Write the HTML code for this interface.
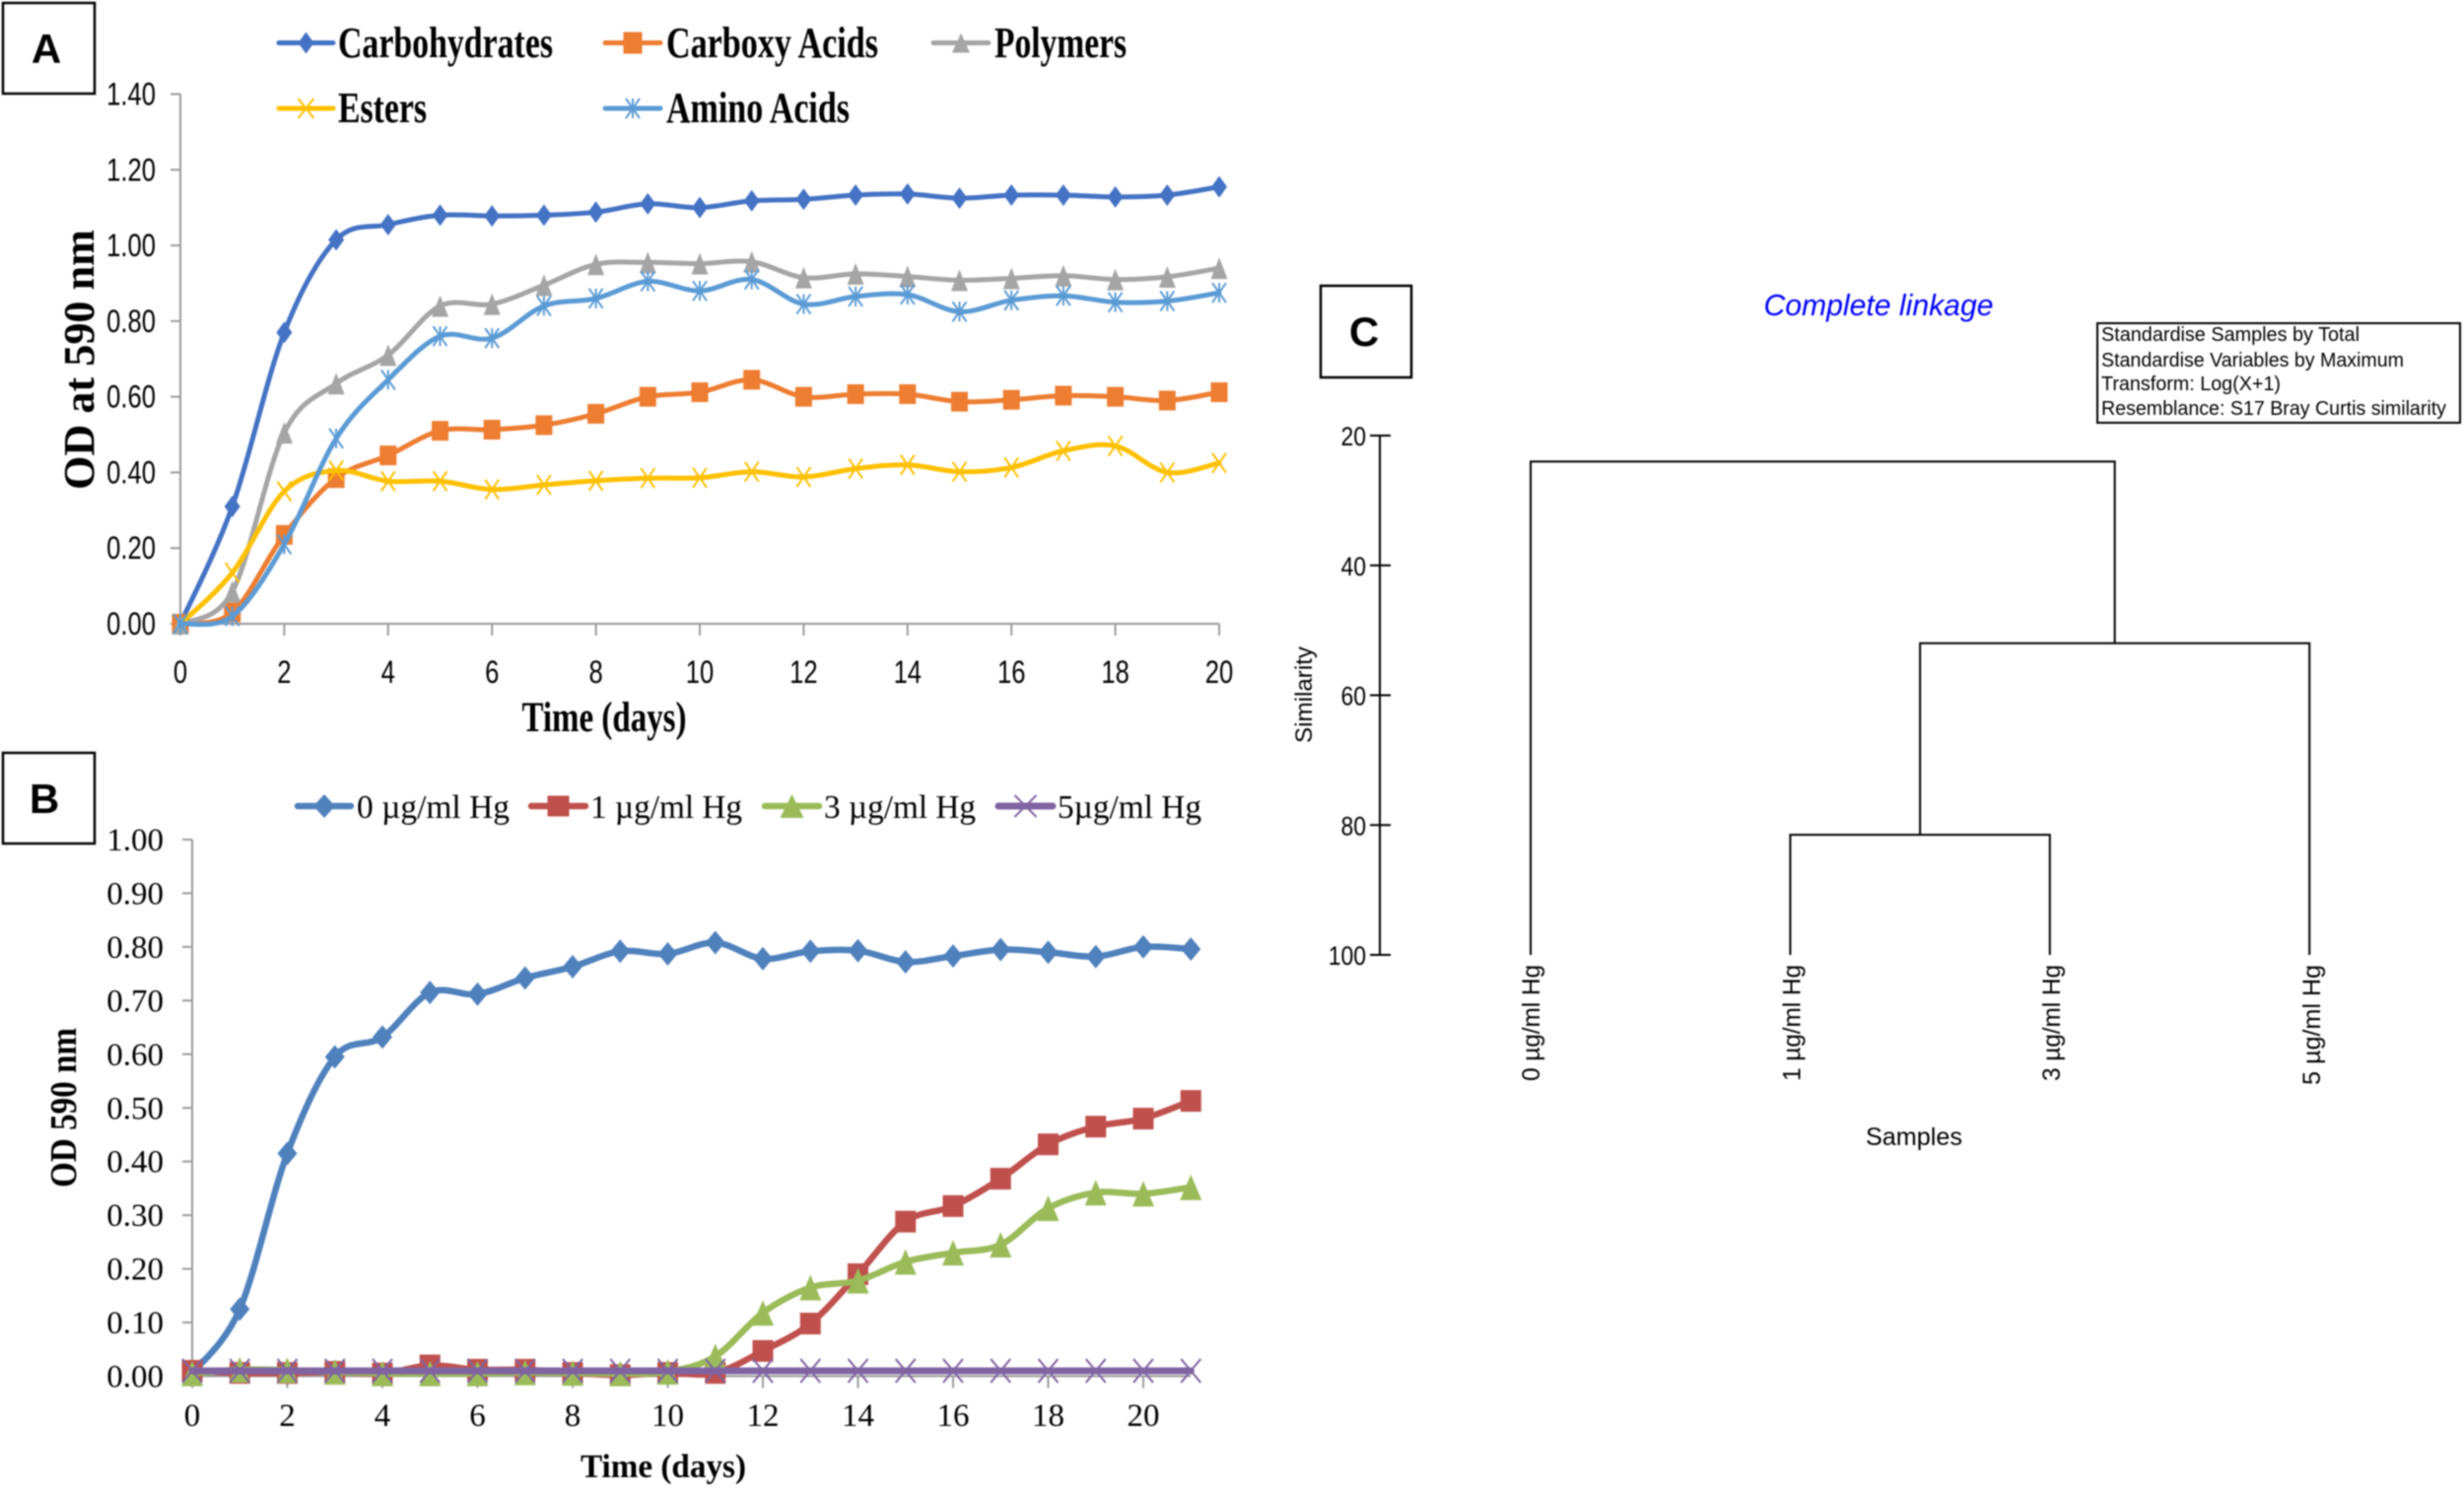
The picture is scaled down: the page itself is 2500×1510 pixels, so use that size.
<!DOCTYPE html>
<html>
<head>
<meta charset="utf-8">
<title>Panels A, B and C</title>
<style>
html,body{margin:0;padding:0;background:#fff;width:2500px;height:1510px;overflow:hidden}
svg{display:block;filter:blur(0.7px)}
.serif{font-family:"Liberation Serif",serif}
.sans{font-family:"Liberation Sans",sans-serif}
</style>
</head>
<body>
<svg id="figure" xmlns="http://www.w3.org/2000/svg" width="2500" height="1510" viewBox="0 0 2500 1510">
  <rect width="2500" height="1510" fill="#fff"/>

  <g id="panel-a">
    <rect x="3" y="3" width="93" height="92" fill="#fff" stroke="#000" stroke-width="2.5"/>
    <text class="sans" x="47" y="64" font-size="42" font-weight="bold" text-anchor="middle">A</text>
    <text class="serif" x="343" y="58" font-size="44" font-weight="bold" textLength="218" lengthAdjust="spacingAndGlyphs">Carbohydrates</text>
    <text class="serif" x="676" y="58" font-size="44" font-weight="bold" textLength="215" lengthAdjust="spacingAndGlyphs">Carboxy Acids</text>
    <text class="serif" x="1009" y="58" font-size="44" font-weight="bold" textLength="134" lengthAdjust="spacingAndGlyphs">Polymers</text>
    <text class="serif" x="343" y="124" font-size="44" font-weight="bold" textLength="90" lengthAdjust="spacingAndGlyphs">Esters</text>
    <text class="serif" x="676" y="124" font-size="44" font-weight="bold" textLength="186" lengthAdjust="spacingAndGlyphs">Amino Acids</text>
    <text class="serif" transform="translate(95,365) rotate(-90)" font-size="44" font-weight="bold" text-anchor="middle" textLength="264" lengthAdjust="spacingAndGlyphs">OD at 590 nm</text>
    <text class="serif" x="613" y="742" font-size="43" font-weight="bold" text-anchor="middle" textLength="167" lengthAdjust="spacingAndGlyphs">Time (days)</text>
  </g>

  <g id="panel-b">
    <rect x="3" y="764" width="93" height="92" fill="#fff" stroke="#000" stroke-width="2.5"/>
    <text class="sans" x="45" y="825" font-size="42" font-weight="bold" text-anchor="middle">B</text>
    <text class="serif" x="362" y="830" font-size="34" textLength="155" lengthAdjust="spacingAndGlyphs">0 µg/ml Hg</text>
    <text class="serif" x="599" y="830" font-size="34" textLength="154" lengthAdjust="spacingAndGlyphs">1 µg/ml Hg</text>
    <text class="serif" x="836" y="830" font-size="34" textLength="154" lengthAdjust="spacingAndGlyphs">3 µg/ml Hg</text>
    <text class="serif" x="1073" y="830" font-size="34" textLength="146" lengthAdjust="spacingAndGlyphs">5µg/ml Hg</text>
    <text class="serif" transform="translate(77,1124) rotate(-90)" font-size="38" font-weight="bold" text-anchor="middle" textLength="162" lengthAdjust="spacingAndGlyphs">OD 590 nm</text>
    <text class="serif" x="673" y="1499" font-size="34" font-weight="bold" text-anchor="middle" textLength="168" lengthAdjust="spacingAndGlyphs">Time (days)</text>
  </g>

  <g id="panel-c">
    <rect x="1340" y="290" width="92" height="93" fill="#fff" stroke="#000" stroke-width="2.5"/>
    <text class="sans" x="1384" y="351" font-size="42" font-weight="bold" text-anchor="middle">C</text>
    <text class="sans" x="1906" y="320" font-size="31" font-style="italic" fill="#0000ff" text-anchor="middle" textLength="233" lengthAdjust="spacingAndGlyphs">Complete linkage</text>
    <rect x="2128" y="328" width="368" height="101" fill="#fff" stroke="#000" stroke-width="2"/>
    <text class="sans" x="2132" y="346" font-size="20" textLength="262" lengthAdjust="spacingAndGlyphs">Standardise Samples by Total</text>
    <text class="sans" x="2132" y="372" font-size="20" textLength="307" lengthAdjust="spacingAndGlyphs">Standardise Variables by Maximum</text>
    <text class="sans" x="2132" y="396" font-size="20" textLength="182" lengthAdjust="spacingAndGlyphs">Transform: Log(X+1)</text>
    <text class="sans" x="2132" y="421" font-size="20" textLength="350" lengthAdjust="spacingAndGlyphs">Resemblance: S17 Bray Curtis similarity</text>
    <text class="sans" transform="translate(1331,705) rotate(-90)" font-size="24" text-anchor="middle" textLength="98" lengthAdjust="spacingAndGlyphs">Similarity</text>
    <text class="sans" x="1942" y="1162" font-size="25" text-anchor="middle" textLength="98" lengthAdjust="spacingAndGlyphs">Samples</text>
  </g>
</svg>

<script>
var daysA = [0,1,2,3,4,5,6,7,8,9,10,11,12,13,14,15,16,17,18,19,20];
var carbohydrates = [0,0.31,0.77,1.015,1.055,1.08,1.078,1.08,1.088,1.11,1.10,1.118,1.122,1.133,1.136,1.125,1.133,1.133,1.128,1.133,1.155];
var carboxyAcids = [0,0.03,0.235,0.385,0.445,0.51,0.513,0.525,0.555,0.60,0.612,0.645,0.60,0.607,0.607,0.587,0.592,0.603,0.60,0.59,0.612];
var polymers = [0,0.085,0.505,0.635,0.71,0.84,0.845,0.895,0.95,0.955,0.952,0.957,0.915,0.925,0.918,0.908,0.913,0.92,0.91,0.917,0.94];
var esters = [0,0.135,0.35,0.405,0.377,0.377,0.355,0.367,0.378,0.385,0.386,0.402,0.388,0.41,0.42,0.402,0.413,0.457,0.47,0.40,0.425];
var aminoAcids = [0,0.02,0.21,0.49,0.645,0.76,0.755,0.84,0.86,0.905,0.88,0.91,0.845,0.865,0.87,0.825,0.855,0.867,0.85,0.853,0.875];
var yTicksA = ["0.00","0.20","0.40","0.60","0.80","1.00","1.20","1.40"];
var xTicksA = ["0","2","4","6","8","10","12","14","16","18","20"];

var daysB = [0,1,2,3,4,5,6,7,8,9,10,11,12,13,14,15,16,17,18,19,20,21];
var hg0 = [0.005,0.125,0.415,0.595,0.632,0.715,0.712,0.742,0.763,0.792,0.787,0.808,0.778,0.792,0.793,0.772,0.783,0.795,0.79,0.782,0.80,0.796];
var hg1 = [0.01,0.006,0.006,0.008,0.005,0.02,0.012,0.012,0.006,0.002,0.006,0.006,0.047,0.098,0.19,0.288,0.317,0.368,0.432,0.465,0.48,0.513];
var hg3 = [0.005,0.012,0.011,0.008,0.005,0.005,0.005,0.007,0.006,0.005,0.008,0.037,0.118,0.165,0.178,0.213,0.23,0.245,0.313,0.342,0.34,0.352];
var hg5 = [0.01,0.01,0.01,0.01,0.01,0.01,0.01,0.01,0.01,0.01,0.01,0.01,0.01,0.01,0.01,0.01,0.01,0.01,0.01,0.01,0.01,0.01];
var yTicksB = ["0.00","0.10","0.20","0.30","0.40","0.50","0.60","0.70","0.80","0.90","1.00"];
var xTicksB = ["0","2","4","6","8","10","12","14","16","18","20"];

var samplesC = ["0 µg/ml Hg","1 µg/ml Hg","3 µg/ml Hg","5 µg/ml Hg"];
var yTicksC = ["20","40","60","80","100"];
var mergeSimilarity = [81.5,52,24];

var NS = 'http://www.w3.org/2000/svg';
var SERIF = '"Liberation Serif",serif';
var SANS = '"Liberation Sans",sans-serif';
function mk(tag, attrs, parent){
  var el = document.createElementNS(NS, tag);
  for (var k in attrs) el.setAttribute(k, attrs[k]);
  parent.appendChild(el);
  return el;
}
function xA(d){ return 183 + d * (1237 - 183) / 20; }
function yA(v){ return 633 - v * (633 - 95.5) / 1.4; }
function xB(d){ return 195 + d * (1160 - 195) / 20; }
function yB(v){ return 1396.5 - v * (1396.5 - 852); }
function xC(i){ return 1553 + i * 263.4; }
function yC(s){ return 442 + (s - 20) * (969 - 442) / 80; }

function smoothPath(pts){
  var n = pts.length;
  var d = 'M' + pts[0][0].toFixed(1) + ' ' + pts[0][1].toFixed(1);
  for (var i = 0; i < n - 1; i++){
    var p0 = pts[i > 0 ? i - 1 : i], p1 = pts[i], p2 = pts[i + 1], p3 = pts[i + 2 < n ? i + 2 : i + 1];
    var c1x = p1[0] + (p2[0] - p0[0]) / 6, c1y = p1[1] + (p2[1] - p0[1]) / 6;
    var c2x = p2[0] - (p3[0] - p1[0]) / 6, c2y = p2[1] - (p3[1] - p1[1]) / 6;
    d += 'C' + c1x.toFixed(1) + ' ' + c1y.toFixed(1) + ' ' + c2x.toFixed(1) + ' ' + c2y.toFixed(1) + ' ' + p2[0].toFixed(1) + ' ' + p2[1].toFixed(1);
  }
  return d;
}
function marker(kind, x, y, color, hw, hh, parent){
  var el;
  if (kind === 'diamond') {
    el = mk('polygon', {points: (x-hw)+','+y+' '+x+','+(y-hh)+' '+(x+hw)+','+y+' '+x+','+(y+hh), fill: color}, parent);
  } else if (kind === 'square') {
    el = mk('rect', {x: x-hw, y: y-hh, width: 2*hw, height: 2*hh, fill: color}, parent);
  } else if (kind === 'triangle') {
    el = mk('polygon', {points: (x-hw)+','+(y+hh)+' '+x+','+(y-hh)+' '+(x+hw)+','+(y+hh), fill: color}, parent);
  } else {
    var d = 'M'+(x-hw)+' '+(y-hh)+'L'+(x+hw)+' '+(y+hh)+'M'+(x-hw)+' '+(y+hh)+'L'+(x+hw)+' '+(y-hh);
    if (kind === 'star') d += 'M'+x+' '+(y-hh)+'L'+x+' '+(y+hh);
    el = mk('path', {d: d, fill: 'none', stroke: color, 'stroke-width': 2}, parent);
  }
  return el;
}
function label(parent, str, x, y, anchor, size, family, sx){
  var el = mk('text', {transform: 'translate('+x+','+y+') scale('+sx+',1)', 'text-anchor': anchor, 'font-size': size, 'font-family': family, fill: '#000'}, parent);
  el.textContent = str;
  return el;
}
function series(parent, name, xs, vals, fx, fy, color, width, kind, hw, hh){
  var g = mk('g', {}, parent);
  
  
  var pts = vals.map(function(v, i){ return [fx(xs[i]), fy(v)]; });
  var line = mk('path', {d: smoothPath(pts), fill: 'none', stroke: color, 'stroke-width': width, 'stroke-linejoin': 'round', 'stroke-linecap': 'round'}, g);
  
  
  pts.forEach(function(p){
    var m = marker(kind, p[0], p[1], color, hw, hh, g);
    
    
  });
}
function legendKey(parent, name, x1, x2, y, color, width, kind, hw, hh){
  var l = mk('line', {x1: x1, x2: x2, y1: y, y2: y, stroke: color, 'stroke-width': width, 'stroke-linecap': 'round'}, parent);
  
  
  var m = marker(kind, (x1 + x2) / 2, y, color, hw, hh, parent);
  
  
}
function chartAxes(parent, prefix, fx, fy, xLabels, yLabels, yStep, xEnd, yTop, o){
  var axisColor = '#9a9a9a';
  var ya = mk('line', {x1: fx(0), x2: fx(0), y1: fy(yTop), y2: fy(0), stroke: axisColor, 'stroke-width': 2}, parent);
  
  
  var xa = mk('line', {x1: fx(0), x2: fx(xEnd), y1: fy(0), y2: fy(0), stroke: axisColor, 'stroke-width': 2}, parent);
  
  
  yLabels.forEach(function(t, i){
    var v = parseFloat(t);
    var tk = mk('line', {x1: fx(0) - 10, x2: fx(0), y1: fy(v), y2: fy(v), stroke: axisColor, 'stroke-width': 2}, parent);
    
    
    var lb = label(parent, t, o.yRight, fy(v) + o.yDy, 'end', o.size, o.family, o.sx);
    
    
  });
  xLabels.forEach(function(t){
    var d = parseFloat(t);
    var tk = mk('line', {x1: fx(d), x2: fx(d), y1: fy(0), y2: fy(0) + 12, stroke: axisColor, 'stroke-width': 2}, parent);
    
    
    var lb = label(parent, t, fx(d), o.xBase, 'middle', o.size, o.family, o.sx);
    
    
  });
}

/* panel A */
var panelA = document.getElementById('panel-a');
chartAxes(panelA, 'a', xA, yA, xTicksA, yTicksA, 0.2, 20, 1.4, {yRight: 158, yDy: 11, xBase: 693, size: 32, family: SANS, sx: 0.8});
series(panelA, 'carbohydrates', daysA, carbohydrates, xA, yA, '#4472c4', 5, 'diamond', 8, 11);
series(panelA, 'carboxy-acids', daysA, carboxyAcids, xA, yA, '#ed7d31', 5, 'square', 8.5, 10);
series(panelA, 'polymers', daysA, polymers, xA, yA, '#a5a5a5', 5, 'triangle', 8.5, 11);
series(panelA, 'esters', daysA, esters, xA, yA, '#ffc000', 5, 'x', 7, 10);
series(panelA, 'amino-acids', daysA, aminoAcids, xA, yA, '#5b9bd5', 5, 'star', 7, 10);
legendKey(panelA, 'carbohydrates', 283, 338, 43.5, '#4472c4', 5, 'diamond', 8, 11);
legendKey(panelA, 'carboxy-acids', 614, 670, 43.5, '#ed7d31', 5, 'square', 9.5, 11);
legendKey(panelA, 'polymers', 947, 1003, 43.5, '#a5a5a5', 5, 'triangle', 9, 10);
legendKey(panelA, 'esters', 283, 338, 110, '#ffc000', 5, 'x', 8, 10);
legendKey(panelA, 'amino-acids', 614, 670, 110, '#5b9bd5', 5, 'star', 7, 10);

/* panel B */
var panelB = document.getElementById('panel-b');
chartAxes(panelB, 'b', xB, yB, xTicksB, yTicksB, 0.1, 21, 1, {yRight: 166, yDy: 11, xBase: 1447, size: 33, family: SERIF, sx: 1});
series(panelB, 'hg-0', daysB, hg0, xB, yB, '#4f81bd', 6.5, 'diamond', 10, 12);
series(panelB, 'hg-1', daysB, hg1, xB, yB, '#c0504d', 6.5, 'square', 10.5, 11);
series(panelB, 'hg-3', daysB, hg3, xB, yB, '#9bbb59', 6.5, 'triangle', 11, 13);
series(panelB, 'hg-5', daysB, hg5, xB, yB, '#8064a2', 7, 'x', 10, 12);
legendKey(panelB, 'hg-0', 302, 356, 818, '#4f81bd', 6.5, 'diamond', 11, 12);
legendKey(panelB, 'hg-1', 539, 594, 818, '#c0504d', 6.5, 'square', 11, 10.5);
legendKey(panelB, 'hg-3', 776, 831, 818, '#9bbb59', 6.5, 'triangle', 12, 12);
legendKey(panelB, 'hg-5', 1013, 1068, 818, '#8064a2', 7, 'x', 11, 11);

/* panel C */
var panelC = document.getElementById('panel-c');
var axC = mk('line', {x1: 1400, x2: 1400, y1: yC(20), y2: yC(100), stroke: '#000', 'stroke-width': 2}, panelC);


yTicksC.forEach(function(t){
  var s = parseFloat(t);
  var tk = mk('line', {x1: 1390, x2: 1411, y1: yC(s), y2: yC(s), stroke: '#000', 'stroke-width': 2}, panelC);
  
  
  var lb = label(panelC, t, 1386, yC(s) + 10, 'end', 27, SANS, 0.85);
  
  
});
samplesC.forEach(function(t, i){
  var off = i === 0 ? 9 : (i === 3 ? 11 : 10);
  var lb = mk('text', {transform: 'translate(' + (xC(i) + off) + ',979) rotate(-90)', 'text-anchor': 'end', 'font-size': 25, 'font-family': SANS, textLength: i === 3 ? 122 : 118, lengthAdjust: 'spacingAndGlyphs'}, panelC);
  lb.textContent = t;
  
  
});
function dendroLink(xl, xr, yl, yr, s){
  var top = yC(s);
  var p = mk('path', {d: 'M' + xl + ' ' + yl + 'V' + top + 'H' + xr + 'V' + yr, fill: 'none', stroke: '#000', 'stroke-width': 2}, panelC);
  
  
  return [(xl + xr) / 2, top];
}
var leafBase = yC(100);
var m1 = dendroLink(xC(1), xC(2), leafBase, leafBase, mergeSimilarity[0]);
var m2 = dendroLink(m1[0], xC(3), m1[1], leafBase, mergeSimilarity[1]);
var m3 = dendroLink(xC(0), m2[0], leafBase, m2[1], mergeSimilarity[2]);
</script>
</body>
</html>
